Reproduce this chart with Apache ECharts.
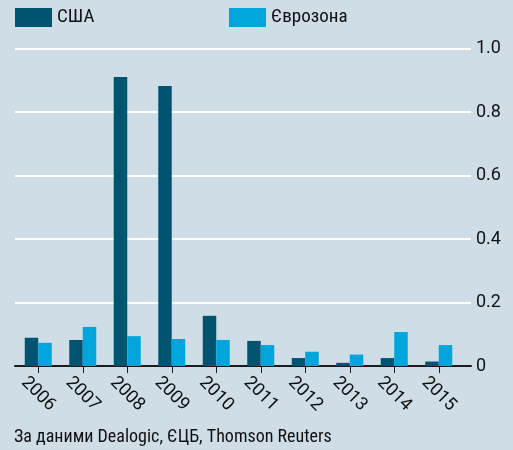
<!DOCTYPE html>
<html><head><meta charset="utf-8">
<script src="https://cdn.jsdelivr.net/npm/echarts@6/dist/echarts.min.js"></script>
<style>html,body{margin:0;padding:0;background:#cedde6;}#c{width:513px;height:450px;}</style>
</head><body><div id="c"></div>
<script>
var categories = ['2006','2007','2008','2009','2010','2011','2012','2013','2014','2015'];
var usa = [0.089, 0.082, 0.910, 0.882, 0.158, 0.079, 0.025, 0.010, 0.025, 0.014];
var euro = [0.073, 0.123, 0.094, 0.085, 0.082, 0.066, 0.045, 0.036, 0.107, 0.066];
var yTicks = [0, 0.2, 0.4, 0.6, 0.8, 1.0];
var seriesNames = ['США', 'Єврозона'];
var source = 'За даними Dealogic, ЄЦБ, Thomson Reuters';

var FONT = '"Roboto Condensed", "Roboto", sans-serif';
var NUMFONT = 'Roboto, "Noto Sans", sans-serif';
var chart = echarts.init(document.getElementById('c'), null, {renderer: 'canvas'});
chart.setOption({
  backgroundColor: '#cedde6',
  animation: false,
  textStyle: {fontFamily: FONT},
  legend: [
    {left: 10, top: 3, itemWidth: 37, itemHeight: 19, icon: 'rect', itemGap: 0,
     textStyle: {fontFamily: FONT, fontSize: 19, color: '#111'},
     data: [seriesNames[0]]},
    {left: 224, top: 3, itemWidth: 37, itemHeight: 19, icon: 'rect', itemGap: 0,
     textStyle: {fontFamily: FONT, fontSize: 19, color: '#111'},
     data: [seriesNames[1]]}
  ],
  graphic: [{type: 'text', left: 14, top: 428, style: {text: source, font: '18px ' + FONT, fill: '#111'}}],
  grid: [
    {left: 15, right: 42, top: 48.5, bottom: 84, containLabel: false},
    {left: 16, right: 52, top: 48.5, bottom: 84, containLabel: false}
  ],
  xAxis: [
    {gridIndex: 0, type: 'value', min: 0, max: 1, show: true,
     axisLine: {show: true, onZero: false, lineStyle: {color: '#1a1a1a', width: 2}},
     axisTick: {show: false}, axisLabel: {show: false}, splitLine: {show: false}},
    {gridIndex: 1, type: 'category', data: categories, boundaryGap: true,
     axisLine: {show: false},
     axisTick: {show: true, alignWithLabel: true, length: 7, lineStyle: {color: '#1a1a1a', width: 1}},
     axisLabel: {rotate: -45, align: 'center', verticalAlign: 'middle', margin: 28,
       fontFamily: NUMFONT, fontSize: 18, color: '#111', interval: 0}}
  ],
  yAxis: [
    {gridIndex: 0, type: 'value', position: 'right', min: 0, max: 1, interval: 0.2,
     axisLine: {show: false}, axisTick: {show: false},
     axisLabel: {margin: 5, fontFamily: NUMFONT, fontSize: 18, color: '#111',
       formatter: function (v) { return v === 0 ? '0' : v.toFixed(1); }},
     splitLine: {show: true, lineStyle: {color: '#ffffff', width: 2}}},
    {gridIndex: 1, type: 'value', min: 0, max: 1, show: false}
  ],
  series: [
    {name: seriesNames[0], type: 'bar', xAxisIndex: 1, yAxisIndex: 1, data: usa,
     barWidth: 13.5, barGap: '0%', itemStyle: {color: '#005470'}},
    {name: seriesNames[1], type: 'bar', xAxisIndex: 1, yAxisIndex: 1, data: euro,
     barWidth: 13.5, barGap: '0%', itemStyle: {color: '#00a5dc'}}
  ]
});
</script></body></html>
